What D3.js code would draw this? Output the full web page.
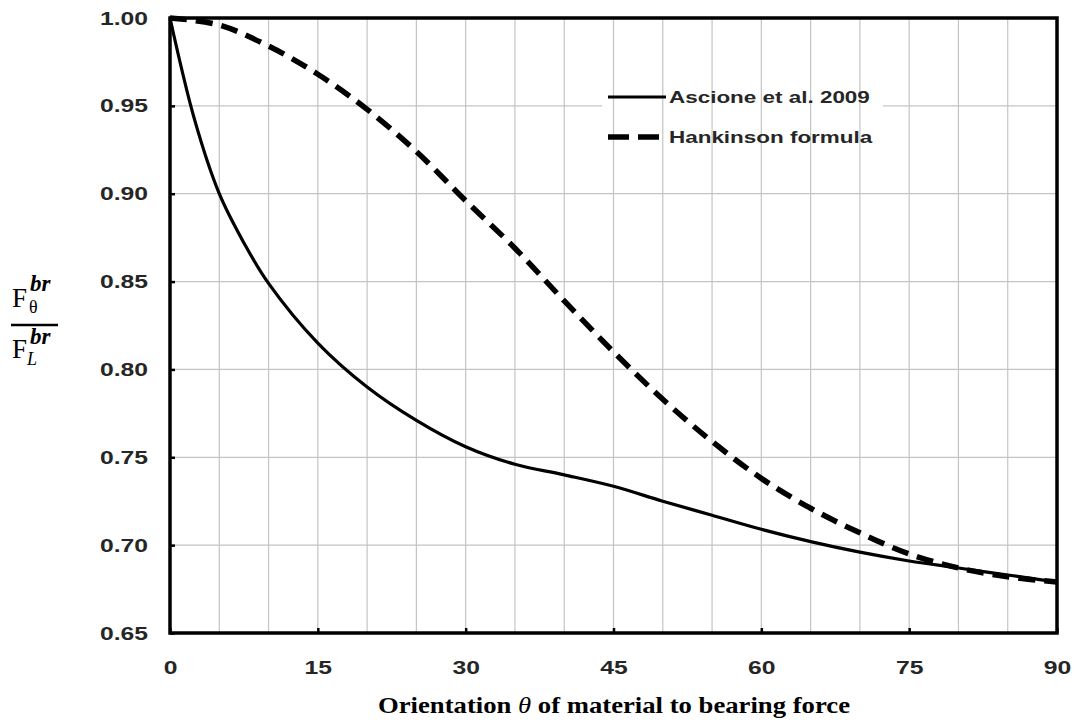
<!DOCTYPE html>
<html>
<head>
<meta charset="utf-8">
<script src="https://cdn.jsdelivr.net/npm/d3@7"></script>
<style>
  body { margin: 0; background: #fff; }
  svg { display: block; }
</style>
</head>
<body>
<svg id="chart" width="1074" height="725"></svg>
<script>
// angles (degrees)
var angles = [0, 2.5, 5, 7.5, 10, 15, 20, 25, 30, 35, 40, 45, 50, 55, 60, 65, 70, 75, 80, 85, 90];
var ascione = [1.000, 0.942, 0.900, 0.872, 0.849, 0.815, 0.790, 0.771, 0.756, 0.746, 0.740, 0.7335, 0.725, 0.717, 0.709, 0.702, 0.696, 0.691, 0.687, 0.683, 0.679];
var hankAngles = [0, 5, 10, 15, 20, 25, 30, 35, 40, 45, 50, 55, 60, 65, 70, 75, 80, 85, 90];
var hankinson = [1.000, 0.996, 0.984, 0.968, 0.948, 0.924, 0.896, 0.869, 0.839, 0.810, 0.783, 0.759, 0.738, 0.721, 0.707, 0.695, 0.687, 0.682, 0.679];

var xTicks = [0, 15, 30, 45, 60, 75, 90];
var yTicks = [0.65, 0.70, 0.75, 0.80, 0.85, 0.90, 0.95, 1.00];
var xGrid = d3.range(0, 91, 5);

var seriesNames = ["Ascione et al. 2009", "Hankinson formula"];

var svg = d3.select("#chart");
var pLeft = 170, pRight = 1057, pTop = 18, pBottom = 633;

var x = d3.scaleLinear().domain([0, 90]).range([pLeft, pRight]);
var y = d3.scaleLinear().domain([0.65, 1.00]).range([pBottom, pTop]);

// the source picture is a bit wide, so text is stretched sideways
function stretch(sel, k) {
    sel.each(function () {
        var w = this.getComputedTextLength();
        d3.select(this)
            .attr("textLength", w * k)
            .attr("lengthAdjust", "spacingAndGlyphs");
    });
}

// horizontal grid
svg.append("g")
    .selectAll("line")
    .data(yTicks)
    .enter()
    .append("line")
    .attr("x1", pLeft).attr("x2", pRight)
    .attr("y1", (d) => y(d)).attr("y2", (d) => y(d))
    .style("stroke", "#c4c4c4")
    .style("stroke-width", 1.2);

// legend box hides the horizontal gridline behind it
svg.append("rect")
    .attr("x", 602).attr("y", 80)
    .attr("width", 281).attr("height", 72)
    .style("fill", "#fff");

// vertical grid
svg.append("g")
    .selectAll("line")
    .data(xGrid)
    .enter()
    .append("line")
    .attr("x1", (d) => x(d)).attr("x2", (d) => x(d))
    .attr("y1", pTop).attr("y2", pBottom)
    .style("stroke", "#c4c4c4")
    .style("stroke-width", 1.2);

// axes with small inward ticks
var xAxis = svg.append("g")
    .attr("transform", "translate(0," + pBottom + ")")
    .call(d3.axisBottom(x).tickValues(xTicks).tickSize(-5).tickPadding(28).tickFormat(d3.format("d")));
var yAxis = svg.append("g")
    .attr("transform", "translate(" + pLeft + ",0)")
    .call(d3.axisLeft(y).tickValues(yTicks).tickSize(-5).tickPadding(22).tickFormat(d3.format(".2f")));

[xAxis, yAxis].forEach(function (a) {
    a.select(".domain").remove();
    a.selectAll(".tick line").style("stroke", "#000").style("stroke-width", 2.5);
    a.selectAll(".tick text")
        .attr("fill", null)
        .style("font-family", "'Liberation Sans', Arial, sans-serif")
        .style("font-weight", "bold")
        .style("font-size", "19px")
        .style("fill", "#262626")
        .call(stretch, 1.3);
});

// frame
svg.append("rect")
    .attr("x", pLeft).attr("y", pTop)
    .attr("width", pRight - pLeft).attr("height", pBottom - pTop)
    .style("fill", "none")
    .style("stroke", "#000")
    .style("stroke-width", 3.5);

// curves
var line = d3.line()
    .x((d) => x(d[0]))
    .y((d) => y(d[1]))
    .curve(d3.curveCatmullRom.alpha(0.5));

svg.append("path")
    .datum(angles.map((a, i) => [a, ascione[i]]))
    .attr("d", line)
    .style("fill", "none")
    .style("stroke", "#000")
    .style("stroke-width", 3.2);

svg.append("path")
    .datum(hankAngles.map((a, i) => [a, hankinson[i]]))
    .attr("d", line)
    .style("fill", "none")
    .style("stroke", "#000")
    .style("stroke-width", 5.5)
    .style("stroke-dasharray", "17,9");

// legend
var legend = svg.append("g");
legend.append("line")
    .attr("x1", 608).attr("x2", 666).attr("y1", 97).attr("y2", 97)
    .style("stroke", "#000").style("stroke-width", 3);
legend.append("line")
    .attr("x1", 608).attr("x2", 662).attr("y1", 137).attr("y2", 137)
    .style("stroke", "#000").style("stroke-width", 5.5)
    .style("stroke-dasharray", "21,9");
legend.selectAll("text")
    .data(seriesNames)
    .enter()
    .append("text")
    .attr("x", 669)
    .attr("y", (d, i) => 103 + i * 40)
    .text((d) => d)
    .style("font-family", "'Liberation Sans', Arial, sans-serif")
    .style("font-weight", "bold")
    .style("font-size", "17px")
    .style("fill", "#262626")
    .call(stretch, 1.32);

// x axis title
var xt = svg.append("text")
    .attr("x", 614)
    .attr("y", 713)
    .attr("text-anchor", "middle")
    .style("font-family", "'Liberation Serif', 'Times New Roman', serif")
    .style("font-weight", "bold")
    .style("font-size", "24px");
xt.append("tspan").text("Orientation ");
xt.append("tspan").text("\u03b8").style("font-style", "italic").style("font-weight", "normal");
xt.append("tspan").text(" of material to bearing force");
xt.attr("textLength", 472).attr("lengthAdjust", "spacingAndGlyphs");

// y axis label: F_theta^br / F_L^br
var ylab = svg.append("g")
    .style("font-family", "'Liberation Serif', 'Times New Roman', serif")
    .style("fill", "#000");
ylab.append("text").attr("x", 12).attr("y", 307).style("font-size", "27px").text("F");
ylab.append("text").attr("x", 29).attr("y", 313).style("font-size", "18px").text("\u03b8");
ylab.append("text").attr("x", 30).attr("y", 291).style("font-size", "23px")
    .style("font-weight", "bold").style("font-style", "italic").text("br");
ylab.append("line")
    .attr("x1", 11).attr("x2", 58).attr("y1", 325).attr("y2", 325)
    .style("stroke", "#000").style("stroke-width", 2.5);
ylab.append("text").attr("x", 12).attr("y", 358).style("font-size", "27px").text("F");
ylab.append("text").attr("x", 27).attr("y", 365).style("font-size", "18px")
    .style("font-style", "italic").text("L");
ylab.append("text").attr("x", 30).attr("y", 344).style("font-size", "23px")
    .style("font-weight", "bold").style("font-style", "italic").text("br");
</script>
</body>
</html>
